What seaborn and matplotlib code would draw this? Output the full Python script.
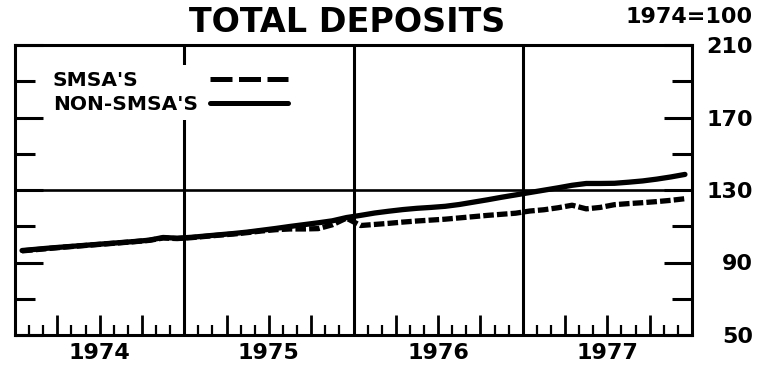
import numpy as np
import pandas as pd
import matplotlib
matplotlib.use("Agg")
import matplotlib.pyplot as plt
from matplotlib.lines import Line2D
from matplotlib.ticker import FixedLocator, FixedFormatter
import seaborn as sns

# Monthly index values, 1974 = 100
years = [1974, 1975, 1976, 1977]
smsa = [
    96.4, 97.1, 97.8, 98.5, 99.1, 99.7, 100.3, 100.9, 101.5, 102.2, 103.5, 103.2,
    103.7, 104.4, 105.1, 105.7, 106.5, 107.4, 108.1, 108.5, 108.5, 108.7, 110.8, 114.5,
    110.4, 111.0, 111.6, 112.3, 112.9, 113.4, 113.9, 114.6, 115.3, 116.0, 116.6, 117.2,
    118.4, 119.1, 120.2, 121.6, 119.6, 120.4, 121.9, 122.5, 123.0, 123.6, 124.3, 125.2,
]
non_smsa = [
    96.6, 97.3, 98.0, 98.6, 99.2, 99.8, 100.4, 101.0, 101.6, 102.3, 103.8, 103.4,
    103.9, 104.6, 105.3, 106.0, 106.8, 107.8, 108.8, 109.9, 110.9, 111.9, 113.0, 114.8,
    116.0, 117.3, 118.3, 119.2, 119.9, 120.4, 121.0, 122.0, 123.3, 124.6, 126.0, 127.3,
    128.6, 129.9, 131.2, 132.6, 133.6, 133.6, 133.7, 134.3, 135.0, 136.0, 137.2, 138.6,
]
series_names = ["SMSA'S", "NON-SMSA'S"]
y_ticks = [50, 90, 130, 170, 210]
y_minor = [70, 110, 150, 190]

t = [y + (m + 0.5) / 12 for y in years for m in range(12)]
df = pd.concat([
    pd.DataFrame({"t": t, "value": smsa, "series": series_names[0]}),
    pd.DataFrame({"t": t, "value": non_smsa, "series": series_names[1]}),
])

sns.set_style("white")
plt.rcParams["font.family"] = ["DejaVu Sans"]
plt.rcParams["font.weight"] = "bold"
for key in ("text.color", "axes.labelcolor", "xtick.color", "ytick.color",
            "axes.edgecolor", "axes.titlecolor"):
    plt.rcParams[key] = "black"

fig = plt.figure(figsize=(7.71, 3.74), dpi=100)
ax = fig.add_axes([15 / 771, 1 - 335 / 374, 677 / 771, 290 / 374])

sns.lineplot(
    data=df, x="t", y="value", style="series",
    dashes={series_names[0]: (2.0, 0.6), series_names[1]: ""},
    color="black", linewidth=3.8, ax=ax, legend=False, zorder=3,
)

ax.set_xlim(years[0], years[-1] + 1)
ax.set_ylim(y_ticks[0], y_ticks[-1])
ax.set_xlabel("")
ax.set_ylabel("")

# reference grid: year dividers and the 130 line
for yr in years[1:]:
    ax.axvline(yr, color="black", lw=2.2, zorder=1)
ax.axhline(130, color="black", lw=1.9, zorder=1)

for s in ax.spines.values():
    s.set_linewidth(2.2)
    s.set_color("black")

# y axis: ticks both sides, labels at right
ax.yaxis.set_major_locator(FixedLocator(y_ticks))
ax.yaxis.set_minor_locator(FixedLocator(y_minor))
ax.set_yticklabels([str(v) for v in y_ticks])
ax.tick_params(axis="y", which="both", direction="in", left=True, right=True,
               labelleft=False, labelright=True, color="black")
ax.tick_params(axis="y", which="major", length=20, width=2.2, pad=44, labelsize=16)
ax.tick_params(axis="y", which="minor", length=14.5, width=2.2)
plt.setp(ax.get_yticklabels(), ha="right")

# x axis: quarterly and monthly ticks, year labels at mid-year
quarters = [y + q / 4 for y in years for q in (1, 2, 3)]
months = [y + m / 12 for y in years for m in range(1, 12) if m % 3 != 0]
labels = [str(int(q)) if abs(q - int(q) - 0.5) < 1e-6 else "" for q in quarters]
ax.xaxis.set_major_locator(FixedLocator(quarters))
ax.xaxis.set_major_formatter(FixedFormatter(labels))
ax.xaxis.set_minor_locator(FixedLocator(months))
ax.tick_params(axis="x", which="both", direction="in", bottom=True, top=False, color="black")
ax.tick_params(axis="x", which="major", length=14.5, width=2.0, pad=6, labelsize=16)
ax.tick_params(axis="x", which="minor", length=7, width=1.6)

ax.set_title("TOTAL DEPOSITS", fontsize=24, fontweight="bold", pad=9,
             x=(347 - 15) / 677, color="black")
fig.text(753 / 771, 1 - 23 / 374, "1974=100", ha="right", va="baseline",
         fontsize=16, fontweight="bold", color="black")

handles = [
    Line2D([], [], color="black", lw=3.6, dashes=(4.4, 1.3)),
    Line2D([], [], color="black", lw=3.6),
]
text_pad = 0.6
leg = ax.legend(
    handles, series_names, loc="upper left", bbox_to_anchor=(0.047, 0.93),
    markerfirst=False, frameon=True, facecolor="white", edgecolor="none",
    framealpha=1, fancybox=False, prop={"size": 14.5, "weight": "bold"},
    handlelength=3.9, handletextpad=text_pad, labelspacing=0.25, borderpad=0.3,
    borderaxespad=0,
)
leg.set_zorder(5)

# left-align the labels while keeping the line samples in one column
fig.canvas.draw()
renderer = fig.canvas.get_renderer()
widths = [txt.get_window_extent(renderer).width for txt in leg.get_texts()]
rows = [row for col in leg._legend_handle_box.get_children() for row in col.get_children()]
px_per_pt = fig.dpi / 72
for row, w in zip(rows, widths):
    row.sep = text_pad * 14.5 + (max(widths) - w) / px_per_pt

fig.savefig("out.png", dpi=100)
